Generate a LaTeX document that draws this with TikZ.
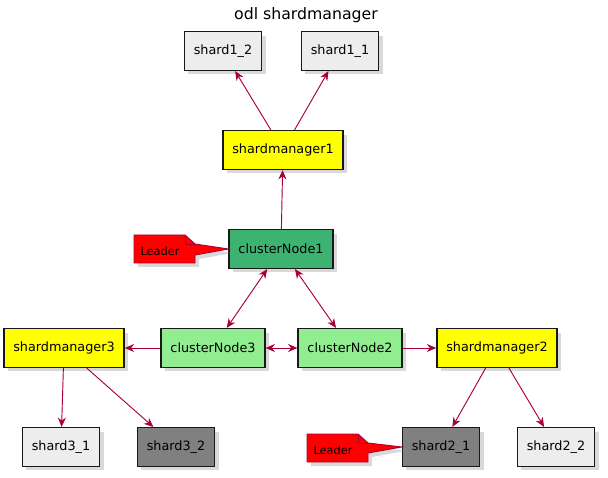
\documentclass[tikz,border=0pt]{standalone}
\usepackage{fontspec}
\setmainfont{DejaVu Sans}
\usepackage{xcolor}
\usetikzlibrary{arrows.meta,shadows}
\definecolor{smline}{HTML}{A80036}
\definecolor{smborder}{HTML}{181818}
\definecolor{smyellow}{HTML}{FFFF00}
\definecolor{smgreen}{HTML}{3CB371}
\definecolor{smlight}{HTML}{90EE90}
\definecolor{smshard}{HTML}{EDEDED}
\definecolor{smgray}{HTML}{808080}
\definecolor{smred}{HTML}{FF0000}

\begin{document}
\begin{tikzpicture}[x=0.75pt,y=-0.75pt,font=\fontsize{9.6}{11}\selectfont,>={Stealth[length=7pt,width=6pt]},
  box/.style={draw=smborder,line width=1.1pt,minimum height=29pt,inner xsep=7pt,
    drop shadow={opacity=0.3,shadow xshift=3pt,shadow yshift=-3pt,fill=black!50}},
  link/.style={smline,line width=0.7pt},
  leadnote/.style={draw=smline,fill=smred,line width=0.7pt,
    drop shadow={opacity=0.3,shadow xshift=3pt,shadow yshift=-3pt,fill=black!50}}]
  \useasboundingbox (0,0) rectangle (608,478);
  \node (title) at (306,15) {\fontsize{11.8}{14}\selectfont odl shardmanager};

  % shards and managers
  \node[box,fill=smshard] (s12) at (223,51) {shard1\_2};
  \node[box,fill=smshard] (s11) at (340,51) {shard1\_1};
  \node[box,fill=smyellow] (sm1) at (283,150) {shardmanager1};
  \node[box,fill=smgreen] (cn1) at (281,249) {clusterNode1};
  \node[box,fill=smyellow] (sm3) at (64,348) {shardmanager3};
  \node[box,fill=smlight] (cn3) at (213,348) {clusterNode3};
  \node[box,fill=smlight] (cn2) at (350,348) {clusterNode2};
  \node[box,fill=smyellow] (sm2) at (497,348) {shardmanager2};
  \node[box,fill=smshard] (s31) at (61,447) {shard3\_1};
  \node[box,fill=smgray] (s32) at (176,447) {shard3\_2};
  \node[box,fill=smgray] (s21) at (441,447) {shard2\_1};
  \node[box,fill=smshard] (s22) at (556,447) {shard2\_2};

  % leader notes
  \draw[leadnote] (134,235) -- (185,235) -- (195,244) -- (cn1.west) -- (195,255) -- (195,263) -- (134,263) -- cycle;
  \draw[smline,line width=0.7pt] (185,235) -- (185,244) -- (195,244);
  \node[font=\fontsize{8.5}{10}\selectfont] (lead1) at (160,251) {Leader};
  \draw[leadnote] (307,434) -- (358,434) -- (368,443) -- (s21.west) -- (368,453) -- (368,462) -- (307,462) -- cycle;
  \draw[smline,line width=0.7pt] (358,434) -- (358,443) -- (368,443);
  \node[font=\fontsize{8.5}{10}\selectfont] (lead2) at (333,450) {Leader};

  % links
  \foreach \a/\b in {sm1/s12,sm1/s11,cn1/sm1,cn3/sm3,cn2/sm2,sm3/s31,sm3/s32,sm2/s21,sm2/s22}
    \draw[link,->] (\a) -- (\b);
  \foreach \a/\b in {cn1/cn3,cn1/cn2,cn3/cn2}
    \draw[link,<->] (\a) -- (\b);
\end{tikzpicture}
\end{document}
